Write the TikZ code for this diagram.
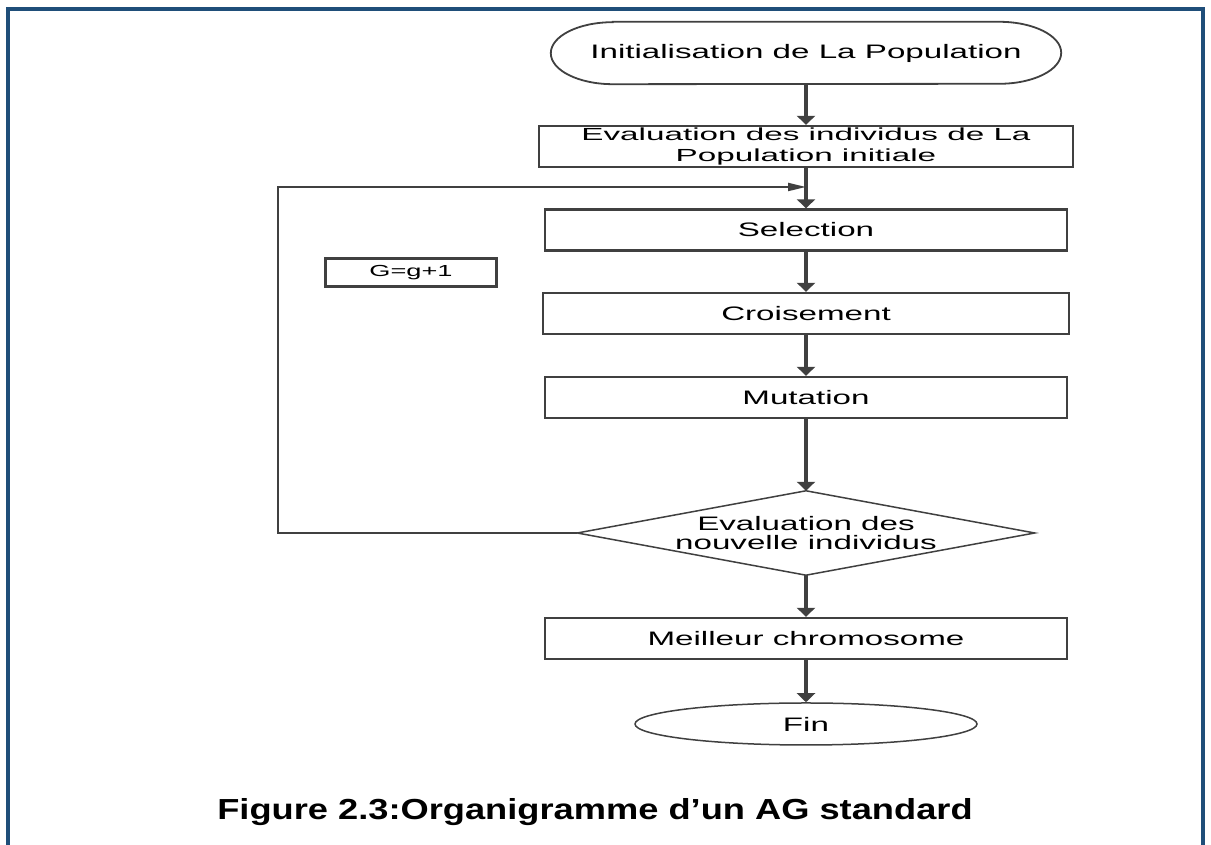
\documentclass[tikz,border=0pt]{standalone}
\usepackage{fontspec}
\setmainfont{Liberation Sans}
\newfontfamily\diagfont{Liberation Sans}[FakeStretch=1.7]
\newfontfamily\evalfont{Liberation Sans}[FakeStretch=1.9]
\newfontfamily\capfont{Liberation Sans}[FakeStretch=1.25]
\usetikzlibrary{arrows.meta,shapes.geometric}
\definecolor{lncol}{HTML}{404040}
\definecolor{bordcol}{HTML}{1F4E79}
\begin{document}
\begin{tikzpicture}[x=1pt,y=1pt,
  txt/.style={font=\diagfont\fontsize{19.5}{20}\selectfont, align=center, inner sep=0pt},
  stepbox/.style={txt, draw=lncol, line width=2.3pt, minimum width=522pt, minimum height=41pt},
  varrow/.style={draw=lncol, line width=3.2pt, -{Triangle[width=18pt,length=9pt]}},
  harrow/.style={draw=lncol, line width=2pt, -{Triangle[width=8pt,length=18pt]}},
  thinshape/.style={draw=lncol, line width=1.5pt}
]
\useasboundingbox (0,0) rectangle (1211,845);
\fill[white] (0,0) rectangle (1211,845);
% page border
\draw[bordcol, line width=4pt] (8,-2) -- (8,836) -- (1203,836) -- (1203,-2);

% start terminal
\node[txt, minimum width=510pt, minimum height=62pt] (start) at (806,792) {Initialisation de La Population};
\draw[draw=lncol, line width=1.8pt] ([xshift=62pt]start.north west) -- ([xshift=-62pt]start.north east)
  arc[start angle=90,end angle=-90,x radius=62pt,y radius=31pt]
  -- ([xshift=62pt]start.south west)
  arc[start angle=270,end angle=90,x radius=62pt,y radius=31pt] -- cycle;

\node[stepbox, minimum width=534pt, font=\evalfont\fontsize{17.5}{21}\selectfont] (eval0) at (806,698.5) {Evaluation des individus de La\\Population initiale};
\coordinate (J) at (806,658);
\node[stepbox] (sel) at (806,615) {Selection};
\node[stepbox, minimum width=526pt] (crois) at (806,531.5) {Croisement};
\node[stepbox] (mut) at (806,447.5) {Mutation};
\node[txt, draw=lncol, line width=2.3pt, minimum width=171pt, minimum height=28pt, font=\diagfont\fontsize{16}{17}\selectfont] (gbox) at (411,572.5) {G=g+1};

\node[txt, minimum width=457pt, minimum height=84pt, font=\diagfont\fontsize{19.5}{19}\selectfont] (dia) at (806,312) {Evaluation des\\nouvelle individus};
\draw[thinshape] (dia.north) -- (dia.east) -- (dia.south) -- (dia.west) -- cycle;

\node[stepbox] (best) at (806,206.5) {Meilleur chromosome};
\node[txt, ellipse, thinshape, minimum width=342pt, minimum height=42pt] (fin) at (806,121) {Fin};

\node[font=\capfont\bfseries\fontsize{29}{34}\selectfont, anchor=base, inner sep=0pt] (cap) at (595,25) {Figure 2.3:Organigramme d’un AG standard};

% connectors
\draw[varrow] (start.south) -- (eval0.north);
\draw[varrow] (eval0.south) -- (sel.north);
\draw[varrow] (sel.south) -- (crois.north);
\draw[varrow] (crois.south) -- (mut.north);
\draw[varrow] (mut.south) -- (dia.north);
\draw[varrow] (dia.south) -- (best.north);
\draw[varrow] (best.south) -- (fin.north);
\coordinate (cornerL) at (278,312);
\draw[harrow] (dia.west) -- (cornerL) |- (J);
\end{tikzpicture}
\end{document}
